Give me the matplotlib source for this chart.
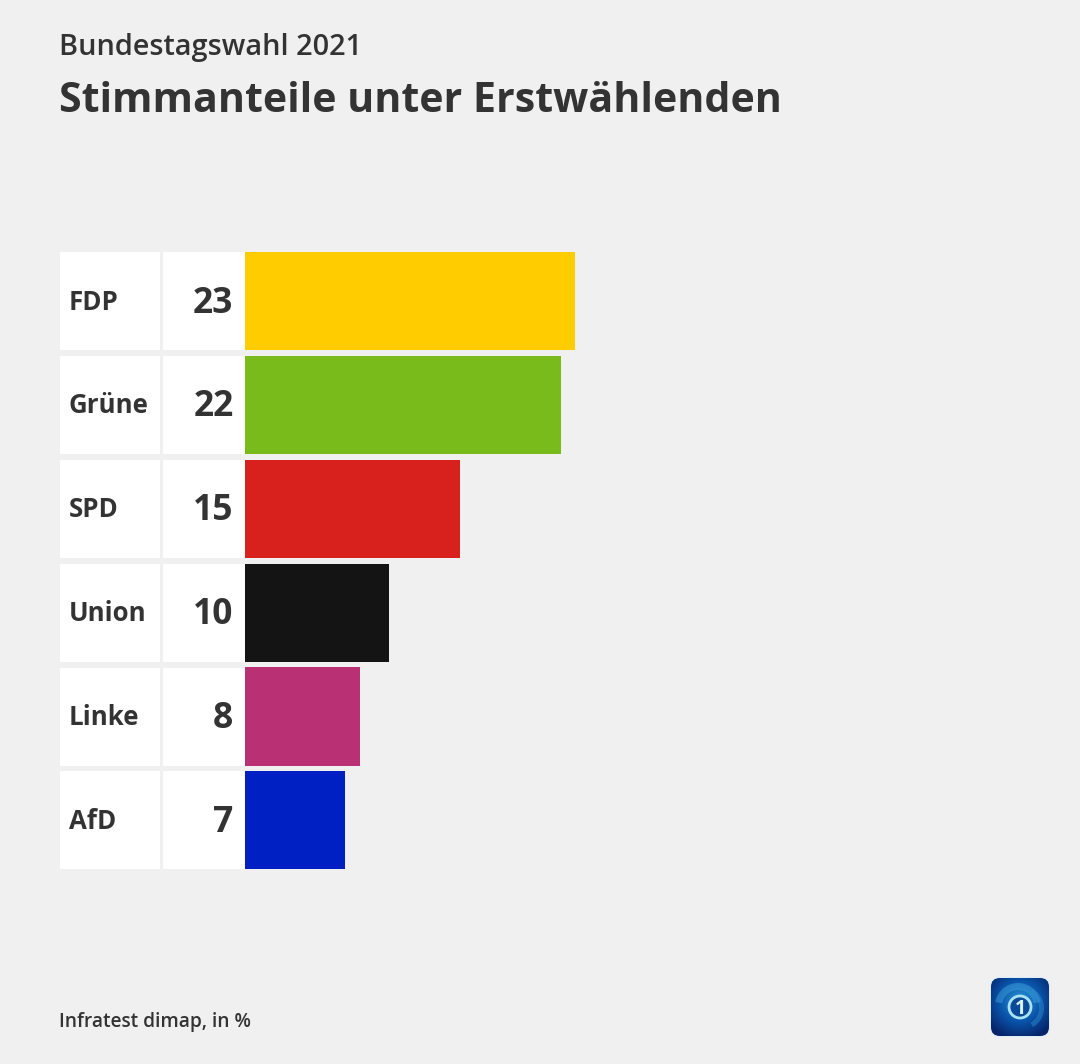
import numpy as np
import matplotlib
matplotlib.use('Agg')
import matplotlib.pyplot as plt
from matplotlib.colors import LinearSegmentedColormap
from matplotlib.patches import Rectangle, FancyBboxPatch, Circle, Wedge

parties = ['FDP', 'Grüne', 'SPD', 'Union', 'Linke', 'AfD']
shares = [23, 22, 15, 10, 8, 7]
colours = ['#ffcc00', '#7abb1c', '#d8201c', '#141414', '#ba3074', '#0020c4']

title = 'Stimmanteile unter Erstwählenden'
subtitle = 'Bundestagswahl 2021'
source = 'Infratest dimap, in %'

bg = '#f0f0f0'
text_colour = '#333333'
W, H = 1080, 1064

plt.rcParams['font.family'] = ['Open Sans', 'DejaVu Sans']

fig = plt.figure(figsize=(W / 100, H / 100), dpi=100, facecolor=bg)

# full figure overlay in pixels, for the table cells, titles and logo
bg_ax = fig.add_axes([0, 0, 1, 1], zorder=0)
bg_ax.set_xlim(0, W)
bg_ax.set_ylim(H, 0)
bg_ax.axis('off')

# bar axes, 14.35 px per percentage point
left, top, pitch = 245, 249.2, 103.85
ax = fig.add_axes([left / W, 1 - (top + 6 * pitch) / H, (W - left) / W, 6 * pitch / H], zorder=1)
ax.patch.set_alpha(0)
y = np.arange(len(parties))
ax.barh(y, shares, height=0.945, color=colours)
ax.set_xlim(0, (W - left) / 14.35)
ax.set_ylim(len(parties) - 0.5, -0.5)
ax.axis('off')

for i, (party, share) in enumerate(zip(parties, shares)):
    cy = top + pitch * (i + 0.5)
    bg_ax.add_patch(Rectangle((60, cy - 49), 100, 98, fc='white', ec='none'))
    bg_ax.add_patch(Rectangle((163, cy - 49), 82, 98, fc='white', ec='none'))
    bg_ax.text(69, cy - 2, party, fontsize=18.6, fontweight='bold', color=text_colour,
               ha='left', va='center_baseline')
    bg_ax.text(233.5, cy - 2, str(share), fontsize=25.5, fontweight='bold', color=text_colour,
               ha='right', va='center_baseline')

bg_ax.text(59, 44, subtitle, fontsize=20.8, fontweight='semibold', color=text_colour,
           ha='left', va='center_baseline')
bg_ax.text(59, 96, title, fontsize=29.6, fontweight='bold', color=text_colour,
           ha='left', va='center_baseline')
bg_ax.text(59, 1019, source, fontsize=13.75, fontweight='semibold', color=text_colour,
           ha='left', va='center_baseline')

# logo
box = FancyBboxPatch((991, 978), 58, 58, boxstyle='round,pad=0,rounding_size=9',
                     fc='none', ec='#dcecf8', lw=1.5, mutation_aspect=1)
bg_ax.add_patch(box)
yy, xx = np.mgrid[0:1:120j, 0:1:120j]
grad = np.clip(1.0 - np.hypot(xx - 0.5, yy - 0.4) * 1.5, 0, 1)
cmap = LinearSegmentedColormap.from_list('logo', ['#06246a', '#0a57ad', '#2f9ad8'])
im = bg_ax.imshow(grad, extent=(991, 1049, 1036, 978), cmap=cmap, zorder=2, aspect='auto')
im.set_clip_path(box)
bg_ax.set_xlim(0, W)
bg_ax.set_ylim(H, 0)
bg_ax.add_patch(Wedge((1018, 1006), 23, 190, 350, width=7, fc='#3f9fdc', ec='none', alpha=0.5, zorder=3))
bg_ax.add_patch(Wedge((1022, 1008), 22, 300, 60, width=5, fc='#2f8fd0', ec='none', alpha=0.45, zorder=3))
bg_ax.add_patch(Circle((1020, 1007), 11, fc='#0a4a96', ec='#a8e2f4', lw=2, zorder=3))
bg_ax.text(1020, 1007, '1', fontsize=14, fontweight='bold', color='#d8f2fa',
           ha='center', va='center_baseline', zorder=4)

fig.savefig('out.png', dpi=100, facecolor=bg)
